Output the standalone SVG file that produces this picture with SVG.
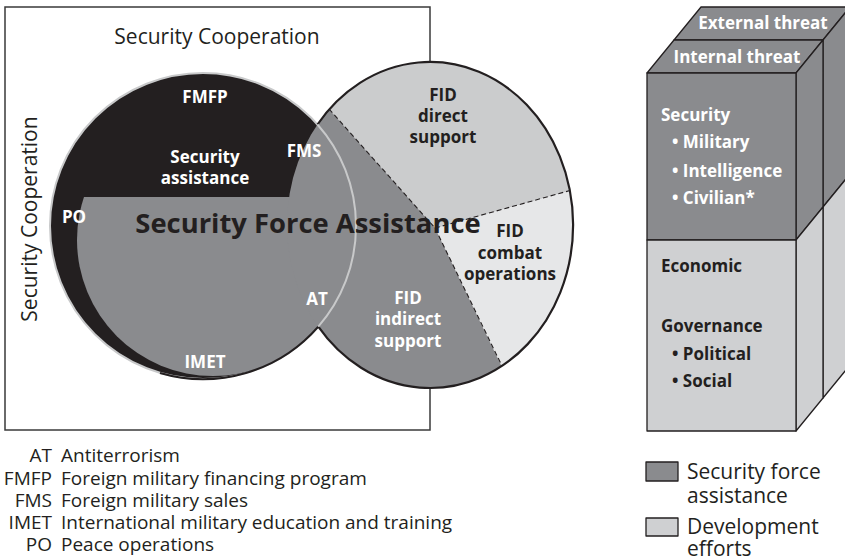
<svg xmlns="http://www.w3.org/2000/svg" width="845" height="559" viewBox="0 0 845 559">
<style>
text{font-family:"Open Sans","Noto Sans","DejaVu Sans",sans-serif}
.wb{font-weight:700;fill:#fff;font-size:17px;text-anchor:middle}
.db{font-weight:700;fill:#231f20;font-size:17px;text-anchor:middle}
.cw{font-weight:700;fill:#fff;font-size:17px}
.cd{font-weight:700;fill:#231f20;font-size:17px}
.rg{fill:#231f20;font-size:19px}
.lg{fill:#231f20;font-size:21px}
.dk{fill:#8a8b8e}
.lt{fill:#cfd0d2}
.edge{stroke:#231f20;stroke-width:1.3;stroke-linejoin:round}
.dash{stroke:#231f20;stroke-width:1.1;stroke-dasharray:5 3;fill:none}
</style>
<defs>
<clipPath id="below"><rect x="0" y="197" width="430" height="300"/></clipPath>
<clipPath id="ell"><ellipse cx="430" cy="225" rx="143" ry="163"/></clipPath>
</defs>

<g id="security-cooperation">
<rect x="5" y="7" width="425" height="423" fill="#fff" stroke="#3a3a3a" stroke-width="1.5"/>
<text x="217" y="44" class="lg" text-anchor="middle">Security Cooperation</text>
<text transform="translate(37,219) rotate(-90)" class="lg" text-anchor="middle">Security Cooperation</text>
</g>

<g id="security-assistance">
<circle cx="203" cy="226" r="153" fill="#231f20" stroke="#c8c9ca" stroke-width="2"/>
<circle cx="213" cy="240" r="136" class="dk" clip-path="url(#below)"/>
<path d="M160 373 A153 153 0 0 0 318.3 326.6" fill="none" stroke="#231f20" stroke-width="2.2"/>
</g>

<g id="fid">
<ellipse cx="430" cy="225" rx="143" ry="163" class="dk"/>
<g clip-path="url(#ell)">
<polygon points="435,228 277,51 277,-50 700,-50 700,154" fill="#cbcccd"/>
<polygon points="435,228 700,154 700,500 565,498" fill="#e6e7e8"/>
</g>
<path d="M329 109 L435 228 L502 366" class="dash"/>
<path d="M435 228 L570 190.5" class="dash"/>
<path d="M317.5 124.5 A143 163 0 1 1 318.3 326.6" fill="none" stroke="#231f20" stroke-width="2.2"/>
<path d="M317.5 124.5 A153 153 0 0 1 318.3 326.6" fill="none" stroke="#c8c9ca" stroke-width="2"/>
</g>

<g id="labels-circles">
<text x="205" y="103" class="wb">FMFP</text>
<text x="205" y="163" class="wb">Security</text>
<text x="205" y="184" class="wb">assistance</text>
<text x="304" y="157" class="wb">FMS</text>
<text x="74" y="223" class="wb">PO</text>
<text x="317" y="305" class="wb">AT</text>
<text x="205" y="368" class="wb">IMET</text>
<text x="443" y="101" class="db">FID</text>
<text x="443" y="122" class="db">direct</text>
<text x="443" y="143" class="db">support</text>
<text x="510" y="237" class="db">FID</text>
<text x="510" y="259" class="db">combat</text>
<text x="510" y="280" class="db">operations</text>
<text x="408" y="304" class="wb">FID</text>
<text x="408" y="325" class="wb">indirect</text>
<text x="408" y="347" class="wb">support</text>
<text x="308" y="233" class="db" style="font-size:27.4px">Security Force Assistance</text>
</g>

<g id="abbreviations">
<text class="rg" x="52" y="462" text-anchor="end">AT</text>
<text class="rg" x="52" y="485" text-anchor="end">FMFP</text>
<text class="rg" x="52" y="507" text-anchor="end">FMS</text>
<text class="rg" x="52" y="529" text-anchor="end">IMET</text>
<text class="rg" x="52" y="551" text-anchor="end">PO</text>
<text class="rg" x="61" y="462">Antiterrorism</text>
<text class="rg" x="61" y="485">Foreign military financing program</text>
<text class="rg" x="61" y="507">Foreign military sales</text>
<text class="rg" x="61" y="529">International military education and training</text>
<text class="rg" x="61" y="551">Peace operations</text>
</g>

<g id="external-threat">
<polygon points="674,40 823,40 850,7 701,7" class="dk edge"/>
<polygon points="823,40 850,7 850,174 823,207" class="dk edge"/>
<polygon points="823,207 850,174 850,365 823,398" class="lt edge"/>
<text x="763" y="29" class="wb">External threat</text>
</g>

<g id="internal-threat">
<polygon points="647,73 796,73 823,40 674,40" class="dk edge"/>
<polygon points="796,73 823,40 823,207 796,240" class="dk edge"/>
<polygon points="796,240 823,207 823,398 796,431" class="lt edge"/>
<rect x="647" y="73" width="149" height="167" class="dk edge"/>
<rect x="647" y="240" width="149" height="191" class="lt edge"/>
<text x="737" y="63" class="wb">Internal threat</text>
<text x="661" y="121" class="cw">Security</text>
<text x="672" y="148" class="cw">• Military</text>
<text x="672" y="177" class="cw">• Intelligence</text>
<text x="672" y="204" class="cw">• Civilian*</text>
<text x="661" y="272" class="cd">Economic</text>
<text x="661" y="332" class="cd">Governance</text>
<text x="672" y="360" class="cd">• Political</text>
<text x="672" y="387" class="cd">• Social</text>
</g>

<g id="legend">
<rect x="646" y="462" width="32" height="19" class="dk edge"/>
<text class="lg" x="687" y="479">Security force</text>
<text class="lg" x="687" y="503">assistance</text>
<rect x="646" y="518" width="32" height="18" class="lt edge"/>
<text class="lg" x="687" y="534">Development</text>
<text class="lg" x="687" y="556">efforts</text>
</g>
</svg>
